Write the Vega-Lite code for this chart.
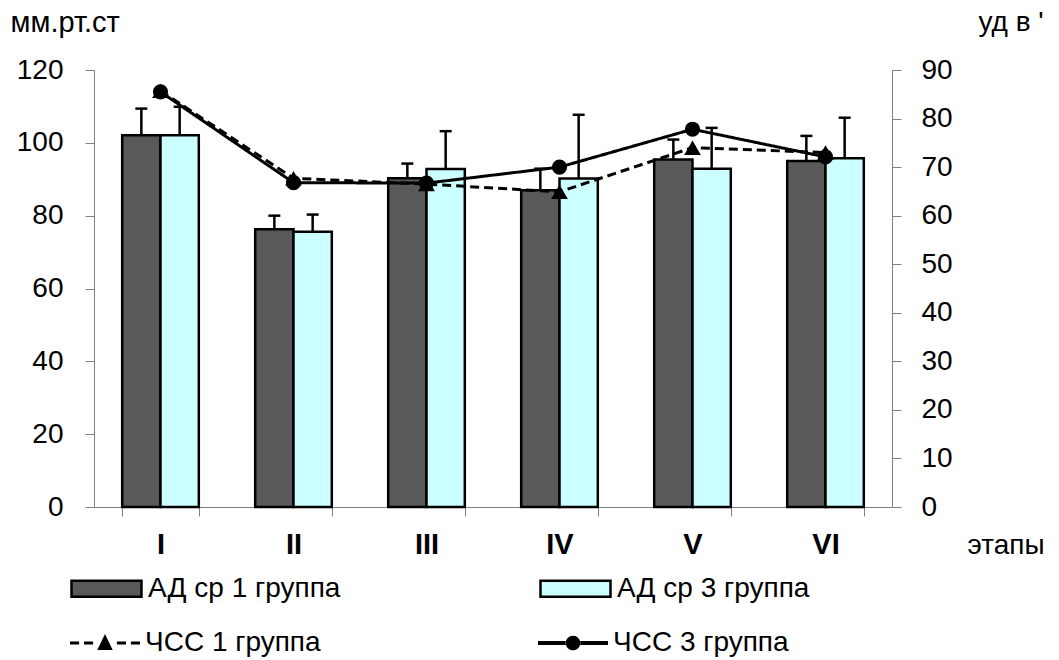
{
  "$schema": "https://vega.github.io/schema/vega-lite/v6.json",
  "width": 798,
  "height": 437,
  "autosize": {"type": "none"},
  "padding": {"left": 94, "top": 70, "right": 167, "bottom": 153},
  "background": "white",
  "config": {"font": "Liberation Sans", "view": {"stroke": null}, "axis": {"grid": false}},
  "datasets": {
    "bars": [
      {"stage": "I", "group": "АД ср 1 группа", "value": 102.1, "top": 109.4},
      {"stage": "I", "group": "АД ср 3 группа", "value": 102.1, "top": 109.9},
      {"stage": "II", "group": "АД ср 1 группа", "value": 76.3, "top": 80.0},
      {"stage": "II", "group": "АД ср 3 группа", "value": 75.6, "top": 80.3},
      {"stage": "III", "group": "АД ср 1 группа", "value": 90.3, "top": 94.3},
      {"stage": "III", "group": "АД ср 3 группа", "value": 92.8, "top": 103.2},
      {"stage": "IV", "group": "АД ср 1 группа", "value": 87.0, "top": 92.9},
      {"stage": "IV", "group": "АД ср 3 группа", "value": 90.2, "top": 107.7},
      {"stage": "V", "group": "АД ср 1 группа", "value": 95.4, "top": 100.9},
      {"stage": "V", "group": "АД ср 3 группа", "value": 92.9, "top": 104.1},
      {"stage": "VI", "group": "АД ср 1 группа", "value": 95.0, "top": 101.9},
      {"stage": "VI", "group": "АД ср 3 группа", "value": 95.8, "top": 106.9}
    ],
    "hr": [
      {"stage": "I", "series": "ЧСС 1 группа", "hr": 85.7},
      {"stage": "II", "series": "ЧСС 1 группа", "hr": 67.7},
      {"stage": "III", "series": "ЧСС 1 группа", "hr": 66.5},
      {"stage": "IV", "series": "ЧСС 1 группа", "hr": 64.9},
      {"stage": "V", "series": "ЧСС 1 группа", "hr": 74.0},
      {"stage": "VI", "series": "ЧСС 1 группа", "hr": 73.0},
      {"stage": "I", "series": "ЧСС 3 группа", "hr": 85.5},
      {"stage": "II", "series": "ЧСС 3 группа", "hr": 66.8},
      {"stage": "III", "series": "ЧСС 3 группа", "hr": 66.7},
      {"stage": "IV", "series": "ЧСС 3 группа", "hr": 70.0},
      {"stage": "V", "series": "ЧСС 3 группа", "hr": 77.8},
      {"stage": "VI", "series": "ЧСС 3 группа", "hr": 72.1}
    ]
  },
  "layer": [
    {
      "data": {"name": "bars"},
      "layer": [
        {
          "mark": {"type": "bar", "stroke": "black", "strokeWidth": 2.5},
          "encoding": {
            "x": {
              "field": "stage", "type": "nominal", "sort": ["I", "II", "III", "IV", "V", "VI"],
              "scale": {"paddingInner": 0.424, "paddingOuter": 0.212},
              "axis": {
                "title": "этапы", "labelAngle": 0, "labelFontSize": 29, "labelFontWeight": "bold", "labelColor": "black",
                "labelPadding": 14, "tickBand": "extent", "tickSize": 9, "tickColor": "#808080", "domainColor": "#808080",
                "titleX": 873, "titleY": 38, "titleAlign": "left", "titleBaseline": "middle", "titleFontSize": 28,
                "titleFontWeight": "normal", "titleColor": "black"
              }
            },
            "xOffset": {"field": "group", "type": "nominal", "scale": {"paddingInner": 0, "paddingOuter": 0}},
            "y": {
              "field": "value", "type": "quantitative", "scale": {"domain": [0, 120], "nice": false},
              "axis": {
                "values": [0, 20, 40, 60, 80, 100, 120], "tickSize": 9, "tickColor": "#808080", "domainColor": "#808080",
                "labelFontSize": 28, "labelColor": "black", "labelPadding": 22, "title": "мм.рт.ст", "titleAngle": 0,
                "titleAlign": "left", "titleBaseline": "middle", "titleX": -84, "titleY": -48, "titleFontSize": 29,
                "titleFontWeight": "normal", "titleColor": "black"
              }
            },
            "fill": {
              "field": "group", "type": "nominal", "scale": {"range": ["#595959", "#ccffff"]},
              "legend": {
                "title": null, "orient": "none", "legendX": -24, "legendY": 482, "direction": "horizontal", "columns": 2,
                "columnPadding": 194, "symbolType": "M-1,-0.23H1V0.23H-1Z", "symbolSize": 4900, "symbolStrokeColor": "black",
                "symbolStrokeWidth": 2.5, "labelFontSize": 28, "labelColor": "black", "labelOffset": 5, "labelLimit": 500,
                "encode": {"symbols": {"update": {"stroke": {"value": "black"}, "strokeWidth": {"value": 2.5}, "opacity": {"value": 1}}}}
              }
            }
          }
        },
        {
          "mark": {"type": "rule", "stroke": "black", "strokeWidth": 2.5},
          "encoding": {
            "x": {"field": "stage", "type": "nominal", "sort": ["I", "II", "III", "IV", "V", "VI"]},
            "xOffset": {"field": "group", "type": "nominal"},
            "y": {"field": "value", "type": "quantitative"},
            "y2": {"field": "top"}
          }
        },
        {
          "mark": {"type": "tick", "color": "black", "thickness": 2.5, "size": 12, "opacity": 1},
          "encoding": {
            "x": {"field": "stage", "type": "nominal", "sort": ["I", "II", "III", "IV", "V", "VI"]},
            "xOffset": {"field": "group", "type": "nominal"},
            "y": {"field": "top", "type": "quantitative"}
          }
        }
      ]
    },
    {
      "data": {"name": "hr"},
      "encoding": {
        "x": {"field": "stage", "type": "nominal", "sort": ["I", "II", "III", "IV", "V", "VI"]},
        "y": {
          "field": "hr", "type": "quantitative", "scale": {"domain": [0, 90], "nice": false},
          "axis": {
            "orient": "right", "values": [0, 10, 20, 30, 40, 50, 60, 70, 80, 90], "tickSize": 9, "tickColor": "#808080",
            "domainColor": "#808080", "labelFontSize": 28, "labelColor": "black", "labelPadding": 20, "title": "уд в '",
            "titleAngle": 0, "titleAlign": "left", "titleBaseline": "middle", "titleX": 86, "titleY": -48,
            "titleFontSize": 28, "titleFontWeight": "normal", "titleColor": "black"
          }
        }
      },
      "layer": [
        {
          "mark": {"type": "line", "color": "black", "strokeWidth": 3},
          "encoding": {
            "strokeDash": {"field": "series", "type": "nominal", "scale": {"range": [[9, 5], [1, 0]]}, "legend": null}
          }
        },
        {
          "transform": [{"filter": "datum.series === 'ЧСС 1 группа'"}],
          "mark": {"type": "point", "shape": "triangle-up", "filled": true, "color": "black", "opacity": 1, "strokeWidth": 0, "size": 280}
        },
        {
          "transform": [{"filter": "datum.series === 'ЧСС 3 группа'"}],
          "mark": {"type": "point", "shape": "circle", "filled": true, "color": "black", "opacity": 1, "strokeWidth": 0, "size": 230}
        },
        {
          "mark": {"type": "point", "filled": true, "color": "black", "opacity": 0, "strokeWidth": 0, "size": 1},
          "encoding": {
            "shape": {
              "field": "series", "type": "nominal",
              "scale": {"range": [
                "M-1,-0.045H-0.74V0.045H-1Z M-0.6,-0.045H-0.34V0.045H-0.6Z M0.34,-0.045H0.6V0.045H0.34Z M0.74,-0.045H1V0.045H0.74Z M-0.22,0.2L0,-0.26L0.22,0.2Z",
                "M-1,-0.057H-0.2V0.057H-1Z M0.2,-0.057H1V0.057H0.2Z M-0.21,0A0.21,0.21 0 1,0 0.21,0A0.21,0.21 0 1,0 -0.21,0Z"
              ]},
              "legend": {
                "title": null, "orient": "none", "legendX": -24, "legendY": 538, "direction": "horizontal", "columns": 2,
                "columnPadding": 217, "symbolSize": 4900, "symbolFillColor": "black", "symbolStrokeWidth": 0, "symbolOpacity": 1,
                "labelFontSize": 28, "labelColor": "black", "labelOffset": 5, "labelLimit": 500,
                "encode": {"symbols": {"update": {"fill": {"value": "black"}, "opacity": {"value": 1}, "fillOpacity": {"value": 1}, "strokeWidth": {"value": 0}, "size": {"value": 4900}}}}
              }
            }
          }
        }
      ]
    }
  ],
  "resolve": {"scale": {"y": "independent"}}
}
